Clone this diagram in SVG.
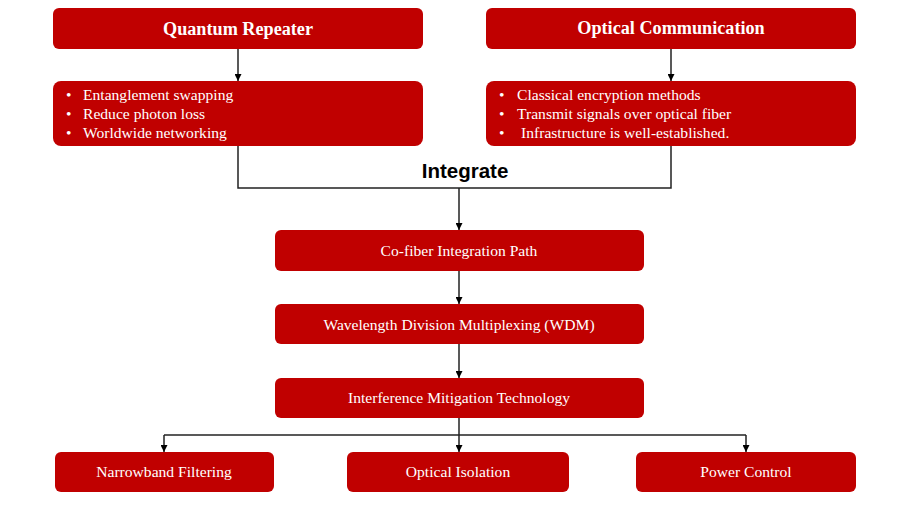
<svg xmlns="http://www.w3.org/2000/svg" width="900" height="511" viewBox="0 0 900 511">
<style>
.box{fill:#C00000;}
.t{font-family:"Liberation Serif","Times New Roman",serif;fill:#fff;font-size:15.6px;}
.h{font-family:"Liberation Serif","Times New Roman",serif;fill:#fff;font-size:18.2px;font-weight:bold;}
.c{text-anchor:middle;}
.ln{fill:none;stroke:#222;stroke-width:1.5;}
</style>
<defs>
<marker id="ah" viewBox="0 0 10 10" refX="10" refY="5" markerWidth="7" markerHeight="7" markerUnits="userSpaceOnUse" orient="auto">
<path d="M0,0 L10,5 L0,10 z" fill="#000"/>
</marker>
</defs>
<rect width="900" height="511" fill="#fff"/>
<g id="connectors">
<line class="ln" x1="238" y1="49" x2="238" y2="81" marker-end="url(#ah)"/>
<line class="ln" x1="671" y1="49" x2="671" y2="81" marker-end="url(#ah)"/>
<polyline class="ln" points="238,146 238,188 671,188 671,146"/>
<line class="ln" x1="459" y1="188" x2="459" y2="230" marker-end="url(#ah)"/>
<line class="ln" x1="459" y1="271" x2="459" y2="304" marker-end="url(#ah)"/>
<line class="ln" x1="459" y1="344" x2="459" y2="378" marker-end="url(#ah)"/>
<line class="ln" x1="459" y1="418" x2="459" y2="452" marker-end="url(#ah)"/>
<line class="ln" x1="164" y1="435" x2="746" y2="435"/>
<line class="ln" x1="164" y1="435" x2="164" y2="452" marker-end="url(#ah)"/>
<line class="ln" x1="746" y1="435" x2="746" y2="452" marker-end="url(#ah)"/>
<text x="465" y="178" text-anchor="middle" font-family="Liberation Sans, Arial, sans-serif" font-size="20.5" font-weight="bold" fill="#000">Integrate</text>
</g>
<g id="quantum-repeater">
<rect class="box" x="53" y="8" width="370" height="41" rx="6"/>
<text class="h c" x="238" y="35">Quantum Repeater</text>
</g>
<g id="optical-communication">
<rect class="box" x="486" y="8" width="370" height="41" rx="6"/>
<text class="h c" x="671" y="34">Optical Communication</text>
</g>
<g id="qr-features">
<rect class="box" x="53" y="81" width="370" height="65" rx="8"/>
<text class="t" x="66" y="100">•</text><text class="t" x="83" y="100">Entanglement swapping</text>
<text class="t" x="66" y="119">•</text><text class="t" x="83" y="119">Reduce photon loss</text>
<text class="t" x="66" y="138">•</text><text class="t" x="83" y="138">Worldwide networking</text>
</g>
<g id="oc-features">
<rect class="box" x="486" y="81" width="370" height="65" rx="8"/>
<text class="t" x="499" y="100">•</text><text class="t" x="517" y="100">Classical encryption methods</text>
<text class="t" x="499" y="119">•</text><text class="t" x="517" y="119">Transmit signals over optical fiber</text>
<text class="t" x="499" y="138">•</text><text class="t" x="521" y="138">Infrastructure is well-established.</text>
</g>
<g id="co-fiber">
<rect class="box" x="275" y="230" width="369" height="41" rx="6"/>
<text class="t c" x="459" y="256">Co-fiber Integration Path</text>
</g>
<g id="wdm">
<rect class="box" x="275" y="304" width="369" height="40" rx="6"/>
<text class="t c" x="459" y="330">Wavelength Division Multiplexing (WDM)</text>
</g>
<g id="interference">
<rect class="box" x="275" y="378" width="369" height="40" rx="6"/>
<text class="t c" x="459" y="403">Interference Mitigation Technology</text>
</g>
<g id="narrowband">
<rect class="box" x="55" y="452" width="219" height="40" rx="6"/>
<text class="t c" x="164" y="477">Narrowband Filtering</text>
</g>
<g id="isolation">
<rect class="box" x="347" y="452" width="222" height="40" rx="6"/>
<text class="t c" x="458" y="477">Optical Isolation</text>
</g>
<g id="power">
<rect class="box" x="636" y="452" width="220" height="40" rx="6"/>
<text class="t c" x="746" y="477">Power Control</text>
</g>
</svg>
